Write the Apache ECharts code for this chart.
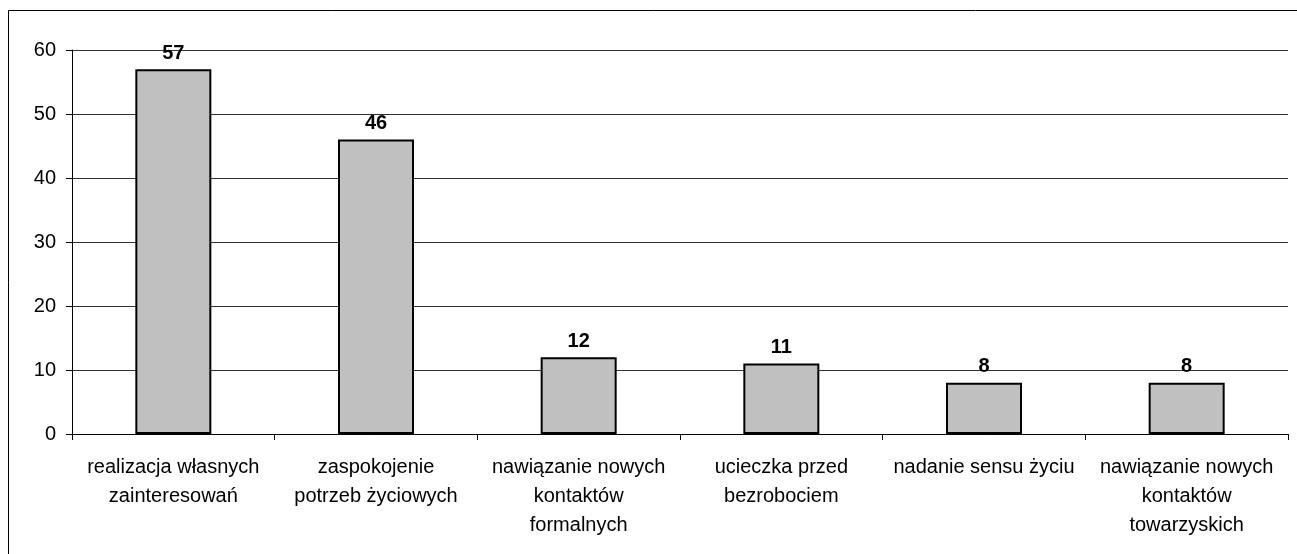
<head><meta charset="utf-8" /></head>

<body style="margin:0">
  <div id="main" style="width: 1297px; height: 554px"></div>
  <script src="https://cdn.jsdelivr.net/npm/echarts@6/dist/echarts.min.js"></script>
  <script>
    // kategorie i wartości
    var categories = [
      "realizacja własnych\nzainteresowań",
      "zaspokojenie\npotrzeb życiowych",
      "nawiązanie nowych\nkontaktów\nformalnych",
      "ucieczka przed\nbezrobociem",
      "nadanie sensu życiu",
      "nawiązanie nowych\nkontaktów\ntowarzyskich"
    ];
    var values = [57, 46, 12, 11, 8, 8];
    var yTicks = [0, 10, 20, 30, 40, 50, 60];

    var font = "Liberation Sans, Arial, sans-serif";
    var myChart = echarts.init(document.getElementById("main"));
    const option = {
      animation: false,
      backgroundColor: "#fff",
      graphic: [
        {
          type: "rect",
          shape: { x: 8.5, y: 10.5, width: 1300, height: 560 },
          style: { fill: "none", stroke: "#000", lineWidth: 1 }
        }
      ],
      grid: { left: 72, right: 9, top: 50, bottom: 120 },
      xAxis: {
        type: "category",
        data: categories,
        axisLine: { lineStyle: { color: "#000", width: 1 } },
        axisTick: { show: true, length: 6, inside: false, lineStyle: { color: "#000" } },
        axisLabel: {
          color: "#000",
          fontFamily: font,
          fontSize: 20,
          lineHeight: 29,
          margin: 19,
          interval: 0
        }
      },
      yAxis: {
        type: "value",
        min: yTicks[0],
        max: yTicks[yTicks.length - 1],
        interval: 10,
        axisLine: { show: true, lineStyle: { color: "#000", width: 1 } },
        axisTick: { show: true, length: 6, lineStyle: { color: "#000" } },
        splitLine: { lineStyle: { color: "#333", width: 1 } },
        axisLabel: { color: "#000", fontFamily: font, fontSize: 20, margin: 16 }
      },
      series: [
        {
          type: "bar",
          data: values,
          barWidth: "37.5%",
          itemStyle: { color: "#c0c0c0", borderColor: "#000", borderWidth: 2 },
          label: {
            show: true,
            position: "top",
            distance: 6,
            color: "#000",
            fontFamily: font,
            fontSize: 20,
            fontWeight: "bold"
          }
        }
      ]
    };
    myChart.setOption(option);
  </script>
</body>
